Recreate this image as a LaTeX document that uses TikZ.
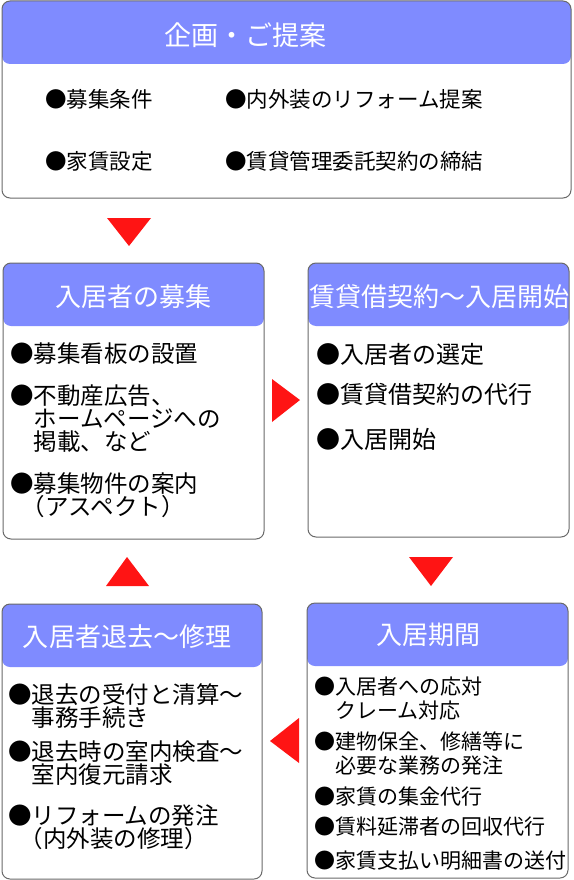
\documentclass[tikz,border=0pt]{standalone}
\usepackage{fontspec}
\setmainfont{Noto Sans CJK JP}
\usepackage{tikz}

\definecolor{headblue}{RGB}{127,139,255}
\definecolor{markred}{RGB}{255,20,20}
\definecolor{edgegray}{RGB}{105,105,105}

\tikzset{
  panel/.style={draw=edgegray, line width=1pt, rounded corners=8pt, inner sep=0pt,
    path picture={\fill[headblue] (path picture bounding box.north west)
      rectangle ([yshift=-63pt]path picture bounding box.north east);}},
  headtext/.style={text=white, inner sep=0pt, font=\fontsize{26}{26}\selectfont},
  item/.style={anchor=north west, inner sep=0pt, align=left},
  itemtop/.style={item, font=\fontsize{21.5}{22}\selectfont},
  itembig/.style={item, font=\fontsize{23.5}{23}\selectfont},
  itemsmall/.style={item, font=\fontsize{21}{24}\selectfont},
}
\newcommand{\ind}{\phantom{●}}

\begin{document}
\begin{tikzpicture}[x=1pt, y=-1pt]
        \useasboundingbox (0,0) rectangle (573,880);

        \node[panel, minimum width=569pt, minimum height=197pt] (plan)     at (286.5,99.5) {};   %top
        \node[panel, minimum width=261pt, minimum height=276pt] (recruit)  at (133.5,401)  {};   %step 1
        \node[panel, minimum width=261pt, minimum height=274pt] (contract) at (438.5,400)  {};   %step 2
        \node[panel, minimum width=261pt, minimum height=275pt] (tenancy)  at (437.5,740.5) {};  %step 3
        \node[panel, minimum width=260pt, minimum height=275pt] (moveout)  at (132,741.5)  {};   %step 4

        \node[headtext, font=\fontsize{27}{27}\selectfont] (plan-title) at (245,35) {企画・ご提案};
        \node[headtext] (recruit-title)  at (133,297) {入居者の募集};
        \node[headtext] (contract-title) at (439,297) {賃貸借契約～入居開始};
        \node[headtext] (tenancy-title)  at (428,635) {入居期間};
        \node[headtext] (moveout-title)  at (127,637) {入居者退去～修理};

        \node[itemtop] (plan-a) at (45,89)  {●募集条件};
        \node[itemtop] (plan-b) at (45,151) {●家賃設定};
        \node[itemtop] (plan-c) at (225,89) {●内外装のリフォーム提案};
        \node[itemtop] (plan-d) at (225,151) {●賃貸管理委託契約の締結};

        \node[itembig] (recruit-a) at (10,343) {●募集看板の設置};
        \node[itembig] (recruit-b) at (10,385) {●不動産広告、\\\ind ホームページへの\\\ind 掲載、など};
        \node[itembig] (recruit-c) at (10,473) {●募集物件の案内\\\hspace*{0.5em}（アスペクト）};

        \node[itembig, font=\fontsize{24}{24}\selectfont] (contract-a) at (316,343) {●入居者の選定};
        \node[itembig, font=\fontsize{24}{24}\selectfont] (contract-b) at (316,383) {●賃貸借契約の代行};
        \node[itembig, font=\fontsize{24}{24}\selectfont] (contract-c) at (316,428) {●入居開始};

        \node[itemsmall] (tenancy-a) at (314,677) {●入居者への応対\\\ind クレーム対応};
        \node[itemsmall] (tenancy-b) at (314,732) {●建物保全、修繕等に\\\ind 必要な業務の発注};
        \node[itemsmall] (tenancy-c) at (314,787) {●家賃の集金代行};
        \node[itemsmall] (tenancy-d) at (314,817) {●賃料延滞者の回収代行};
        \node[itemsmall] (tenancy-e) at (314,851) {●家賃支払い明細書の送付};

        \node[itembig] (moveout-a) at (8,683) {●退去の受付と清算～\\\ind 事務手続き};
        \node[itembig] (moveout-b) at (8,741) {●退去時の室内検査～\\\ind 室内復元請求};
        \node[itembig] (moveout-c) at (8,805) {●リフォームの発注\\\hspace*{0.5em}（内外装の修理）};

        \fill[markred] (107,218) -- (151,218) -- (129,246) -- cycle;   %plan -> recruit
        \fill[markred] (272,379) -- (272,422) -- (300,400) -- cycle;   %recruit -> contract
        \fill[markred] (409,557) -- (453,557) -- (431,586) -- cycle;   %contract -> tenancy
        \fill[markred] (299,718) -- (299,763) -- (270,741) -- cycle;   %tenancy -> moveout
        \fill[markred] (106,586) -- (149,586) -- (127,557) -- cycle;   %moveout -> recruit
\end{tikzpicture}
\end{document}
